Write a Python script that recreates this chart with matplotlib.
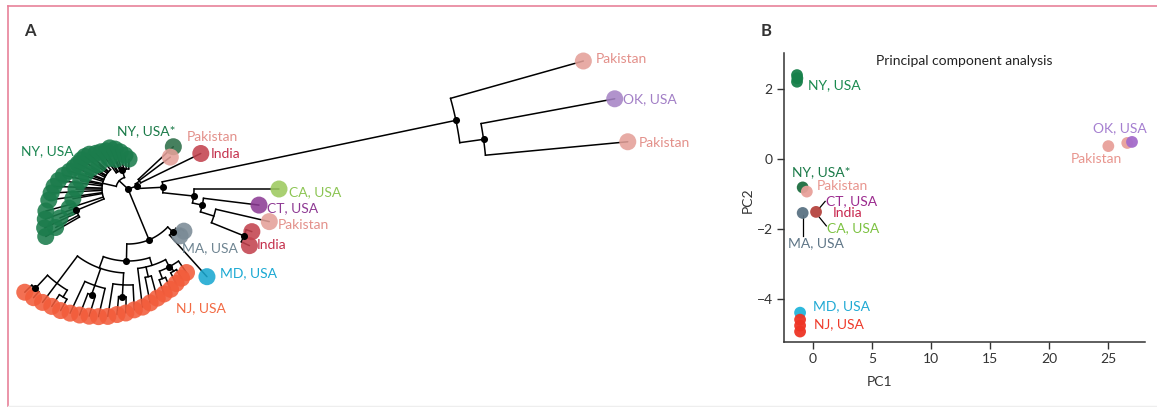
import numpy as np
import matplotlib
matplotlib.use('Agg')
import matplotlib.pyplot as plt

plt.rcParams['font.family'] = ['Lato', 'DejaVu Sans']

W, H = 1157, 407

# colours of the sampling places (tree tips, labels)
tip_col = {'NY': '#1b7c4c', 'NYs': '#2c6e48', 'PK': '#e4a099', 'IN': '#c3434f', 'CA': '#9dca5f',
           'CT': '#8d3c95', 'MA': '#7b8b96', 'MD': '#1aa8d1', 'NJ': '#f25c3b', 'OK': '#a684c5'}
lab_col = {'NY': '#1a8550', 'NYs': '#1a7a48', 'PK': '#e3908a', 'IN': '#c4304c', 'CA': '#8cc554',
           'CT': '#8e3a94', 'MA': '#6f8592', 'MD': '#1ba9d3', 'NJ': '#f26a43', 'OK': '#a27fc6'}
pca_col = {'NY': '#16804a', 'NYs': '#1d6e40', 'PK': '#e8a09a', 'IN': '#b5443f', 'MA': '#5b7384',
           'MD': '#22b4da', 'NJ': '#ee3425', 'OK': '#a46bcb'}
pca_lab = {'NY': '#1a8a4f', 'NYs': '#1a7a48', 'PK': '#e8958e', 'IN': '#c8264e', 'CT': '#9b2a8e',
           'CA': '#7dc242', 'MA': '#5f7687', 'MD': '#21aad4', 'NJ': '#ee3a2a', 'OK': '#a57fd0'}


# ---- tree data: tips are (angle deg, distance from root), nodes carry their distance ----
def tip(a, r, g):
    return ('tip', r, a, g)


def node(r, dot, *kids):
    return ('node', r, dot, kids)


ny_a = [(88, 30), (95, 34), (102, 38), (108, 42), (114, 45), (120, 44), (126, 46), (112, 32), (122, 36)]
ny_b = [(132, 48), (138, 52), (143, 54), (148, 55), (153, 56), (158, 58), (163, 61),
        (168, 66), (173, 70), (178, 74), (183, 77), (188, 80),
        (140, 38), (150, 42), (160, 45), (170, 48), (180, 52), (190, 56), (198, 62)]
ny_c = [(195, 85), (200, 88), (205, 92), (210, 95), (203, 74), (208, 82)]

ny_clade = node(12, False,
                node(20, True, *[tip(a, r, 'NY') for a, r in ny_a]),
                node(26, False, *[tip(a, r, 'NY') for a, r in ny_b],
                     node(56, True, *[tip(a, r, 'NY') for a, r in ny_c])))

upper_clade = node(9, True,
                   node(14, False, tip(43, 62, 'NYs'), tip(37, 53, 'PK'), tip(26, 81, 'IN')),
                   node(35, True,
                        node(335, True, tip(15.7, 473, 'PK'),
                             node(359, True, tip(10.5, 495, 'OK'), tip(5.4, 502, 'PK'))),
                        node(66, True, tip(0, 151, 'CA'),
                             node(76, True, tip(-7, 132, 'CT'),
                                  node(90, False, tip(-13, 145, 'PK'),
                                       node(125, True, tip(-19, 131, 'IN'), tip(-25, 134, 'IN')))))))

nj_clade = node(72, True,
                node(84, False,
                     node(118, False, node(136, True, tip(-135, 146, 'NJ'), tip(-131, 144, 'NJ')),
                          tip(-127, 142, 'NJ'), node(126, False, tip(-123, 140, 'NJ'), tip(-119, 139, 'NJ'))),
                     node(102, False, tip(-115, 137, 'NJ'),
                          node(112, True, tip(-111, 135, 'NJ'), tip(-107, 133, 'NJ')), tip(-103, 131, 'NJ')),
                     node(96, False, tip(-99, 129, 'NJ'),
                          node(108, True, tip(-95, 126, 'NJ'), tip(-91, 124, 'NJ')), tip(-87, 121, 'NJ'))),
                node(80, False, tip(-83, 119, 'NJ'),
                     node(90, False, tip(-79, 116, 'NJ'), tip(-75, 113, 'NJ')),
                     node(88, True, node(96, False, tip(-71, 111, 'NJ'), tip(-67, 109, 'NJ')),
                          node(94, False, tip(-63, 106, 'NJ'), tip(-59, 104, 'NJ')), tip(-55, 102, 'NJ'))))

lower_clade = node(55, True,
                   node(62, True, node(66, False, tip(-37, 70, 'MA'), tip(-42, 70, 'MA')), tip(-48, 118, 'MD')),
                   nj_clade)

tree = node(0, True, ny_clade, upper_clade, lower_clade)

# tree tip labels: text, place, left x, centre y (pixels)
tree_labels = [('NY, USA', 'NY', 21, 151), ('NY, USA*', 'NYs', 117, 131), ('Pakistan', 'PK', 187, 137),
               ('India', 'IN', 211, 154), ('CA, USA', 'CA', 289, 192), ('CT, USA', 'CT', 267, 208),
               ('Pakistan', 'PK', 278, 225), ('India', 'IN', 257, 245), ('MA, USA', 'MA', 182, 248),
               ('MD, USA', 'MD', 220, 273), ('NJ, USA', 'NJ', 176, 308), ('Pakistan', 'PK', 596, 59),
               ('OK, USA', 'OK', 623, 99), ('Pakistan', 'PK', 639, 143)]

# ---- PCA data ----
pca_place = ['NY', 'NY', 'NY', 'NYs', 'PK', 'IN', 'MA', 'MD', 'NJ', 'NJ', 'NJ', 'PK', 'PK', 'OK']
pc1 = [-1.33, -1.30, -1.33, -0.85, -0.50, 0.28, -0.85, -1.07, -1.07, -1.07, -1.07, 25.0, 26.6, 27.0]
pc2 = [2.41, 2.32, 2.22, -0.80, -0.92, -1.50, -1.53, -4.38, -4.58, -4.75, -4.92, 0.38, 0.47, 0.50]

pca_labels = [('NY, USA', 'NY', -0.40, 2.12), ('NY, USA*', 'NYs', -1.75, -0.36), ('Pakistan', 'PK', 0.36, -0.77),
              ('CT, USA', 'CT', 1.12, -1.18), ('India', 'IN', 1.71, -1.54), ('CA, USA', 'CA', 1.21, -1.96),
              ('MA, USA', 'MA', -2.09, -2.39), ('MD, USA', 'MD', 0.03, -4.18), ('NJ, USA', 'NJ', 0.11, -4.71),
              ('OK, USA', 'OK', 23.7, 0.90), ('Pakistan', 'PK', 21.8, 0.0)]

fig = plt.figure(figsize=(W / 100, H / 100), dpi=100)

# ---- panel A, drawn in pixel units ----
ax = fig.add_axes([0, 0, 1, 1])
ax.set_xlim(0, W)
ax.set_ylim(H, 0)
ax.axis('off')

cx, cy = 128, 189
lw = 1.1
tips_x, tips_y, tips_c = [], [], []
dots_x, dots_y = [], []


def pos(r, a):
    t = np.radians(a)
    return cx + r * np.cos(t), cy - r * np.sin(t)


def draw(n, parent_r):
    if n[0] == 'tip':
        _, r, a, g = n
        x0, y0 = pos(parent_r, a)
        x1, y1 = pos(r, a)
        ax.plot([x0, x1], [y0, y1], color='black', lw=lw, zorder=2, solid_capstyle='round')
        tips_x.append(x1)
        tips_y.append(y1)
        tips_c.append(tip_col[g])
        return a
    _, r, dot, kids = n
    angs = [draw(k, r) for k in kids]
    a = (min(angs) + max(angs)) / 2
    if r > 0:
        arc = np.linspace(min(angs), max(angs), 60)
        ax.plot(*pos(r, arc), color='black', lw=lw, zorder=2)
        x0, y0 = pos(parent_r, a)
        x1, y1 = pos(r, a)
        ax.plot([x0, x1], [y0, y1], color='black', lw=lw, zorder=2)
    if dot:
        x1, y1 = pos(r, a)
        dots_x.append(x1)
        dots_y.append(y1)
    return a


draw(tree, 0)
ax.scatter(tips_x, tips_y, s=150, c=tips_c, alpha=0.88, linewidths=0, zorder=3)
ax.scatter(dots_x, dots_y, s=26, c='black', linewidths=0, zorder=4)

for txt, g, x, y in tree_labels:
    ax.text(x, y, txt, color=lab_col[g], fontsize=10, ha='left', va='center')

ax.text(30, 31, 'A', fontsize=12, fontweight='bold', color='#333333', ha='center', va='center')
ax.text(766, 31, 'B', fontsize=12, fontweight='bold', color='#333333', ha='center', va='center')

# pink frame
ax.plot([8, 8], [6, H], color='#e8819a', lw=1.2, zorder=1)
ax.plot([8, W], [6, 6], color='#e8819a', lw=1.2, zorder=1)
ax.plot([8, W], [406, 406], color='#eeeeee', lw=1, zorder=1)

# ---- panel B, PCA ----
axb = fig.add_axes([784 / W, 1 - 341.7 / H, 361 / W, 289 / H])
axb.scatter(pc1, pc2, s=72, c=[pca_col[g] for g in pca_place], alpha=0.95, linewidths=0, zorder=3)
axb.set_xlim(-2.43, 28.1)
axb.set_ylim(-5.21, 3.05)
axb.set_xticks([0, 5, 10, 15, 20, 25])
axb.set_yticks([-4, -2, 0, 2])
for s in ['top', 'right']:
    axb.spines[s].set_visible(False)
for s in ['left', 'bottom']:
    axb.spines[s].set_color('#333333')
    axb.spines[s].set_linewidth(1.1)
axb.tick_params(length=5, width=1.0, color='#333333', labelsize=10, labelcolor='#333333', pad=3)
axb.set_xlabel('PC1', fontsize=10, color='#333333')
axb.set_ylabel('PC2', fontsize=10, color='#333333')
axb.xaxis.set_label_coords(0.266, -0.12)
axb.yaxis.set_label_coords(-0.085, 0.49)
axb.text(0.5, 0.97, 'Principal component analysis', transform=axb.transAxes, fontsize=10,
         color='#222222', ha='center', va='center')

for txt, g, x, y in pca_labels:
    axb.text(x, y, txt, color=pca_lab[g], fontsize=10, ha='left', va='center')

# leader lines to labels
axb.plot([0.55, 1.05], [-1.4, -1.2], color='black', lw=0.9)
axb.plot([0.55, 1.15], [-1.65, -1.9], color='black', lw=0.9)
axb.plot([-0.85, -0.85], [-1.6, -2.2], color='black', lw=0.9)

fig.savefig('out.png', dpi=100)
